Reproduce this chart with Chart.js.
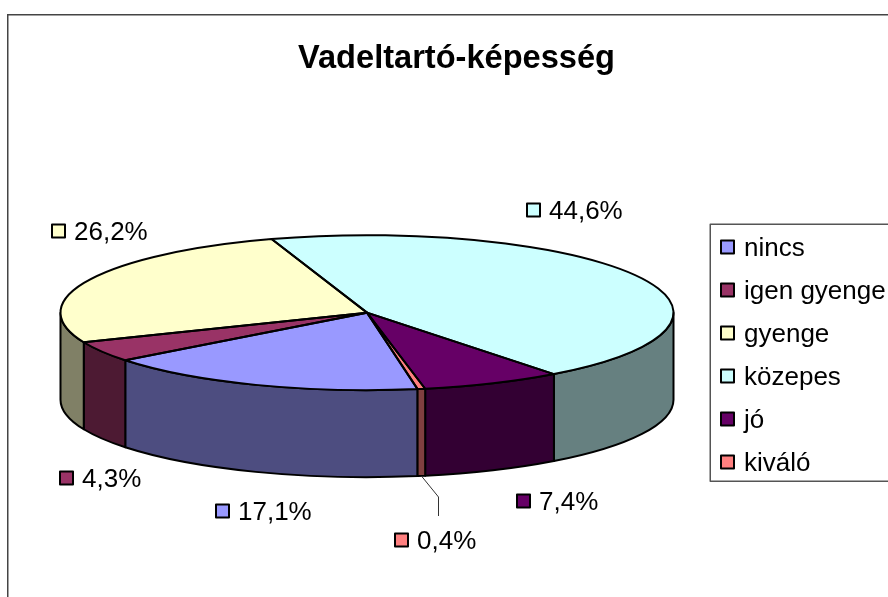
<!DOCTYPE html>
<html>
<head>
<meta charset="utf-8">
<style>
html,body{margin:0;padding:0;background:#fff;overflow:hidden}
canvas{display:block}
</style>
<script src="https://cdn.jsdelivr.net/npm/chart.js@4/dist/chart.umd.min.js"></script>
</head>
<body>
<canvas id="c" width="888" height="597"></canvas>
<script>
const titleText = 'Vadeltartó-képesség';
const categories = ['nincs', 'igen gyenge', 'gyenge', 'közepes', 'jó', 'kiváló'];
const shares = [17.1, 4.3, 26.2, 44.6, 7.4, 0.4];
const sliceColors = ['#9999FF', '#993366', '#FFFFCC', '#CCFFFF', '#660066', '#FF8080'];
const wallColors = ['#4D4D80', '#4D1A33', '#808066', '#668080', '#330033', '#804040'];

const FONT = '"Liberation Sans", Arial, sans-serif';
const TILT = 77.5 / 306.5, DEPTH = 87;
/* where each data label's marker sits: [marker left, marker centre y] */
const labelSpots = [[215, 511], [59, 478], [51, 231], [526, 210], [516, 501], [394, 540]];

function marker(ctx, x, cy, color) {
  ctx.fillStyle = color;
  ctx.strokeStyle = '#000';
  ctx.lineWidth = 2;
  ctx.fillRect(x + 1, cy - 6.5, 13, 13);
  ctx.strokeRect(x + 1, cy - 6.5, 13, 13);
}

const pie3d = {
  id: 'pie3d',
  afterLayout(chart) {
    const t = chart.titleBlock;
    t.left = 0; t.right = 913; t.top = 39;
  },
  beforeDraw(chart) {
    const ctx = chart.ctx;
    ctx.save();
    ctx.strokeStyle = '#444';
    ctx.lineWidth = 1.5;
    ctx.beginPath();
    ctx.moveTo(7.75, 597); ctx.lineTo(7.75, 14.75); ctx.lineTo(888, 14.75);
    ctx.stroke();
    ctx.restore();
  },
  beforeDatasetsDraw(chart) {
    const ctx = chart.ctx, arcs = chart.getDatasetMeta(0).data;
    ctx.save();
    const TAU = Math.PI * 2;
    arcs.forEach((a, i) => {
      for (let k = -1; k <= 2; k++) {
        const lo = Math.max(a.startAngle, k * TAU), hi = Math.min(a.endAngle, k * TAU + Math.PI);
        if (hi <= lo) continue;
        const rx = a.outerRadius, ry = rx * TILT;
        ctx.beginPath();
        ctx.ellipse(a.x, a.y, rx, ry, 0, lo, hi);
        ctx.ellipse(a.x, a.y + DEPTH, rx, ry, 0, hi, lo, true);
        ctx.closePath();
        ctx.fillStyle = wallColors[i];
        ctx.fill();
        ctx.strokeStyle = '#000';
        ctx.lineWidth = 2;
        ctx.lineJoin = 'round';
        ctx.stroke();
      }
    });
    ctx.restore();
    const c = arcs[0];
    ctx.save();
    ctx.translate(c.x, c.y);
    ctx.scale(1, TILT);
    ctx.translate(-c.x, -c.y);
  },
  afterDatasetsDraw(chart) {
    const ctx = chart.ctx, arcs = chart.getDatasetMeta(0).data;
    ctx.restore();
    ctx.save();
    ctx.strokeStyle = '#000';
    ctx.lineWidth = 2;
    ctx.lineJoin = 'round';
    arcs.forEach(a => {
      ctx.beginPath();
      ctx.moveTo(a.x, a.y);
      ctx.ellipse(a.x, a.y, a.outerRadius, a.outerRadius * TILT, 0, a.startAngle, a.endAngle);
      ctx.closePath();
      ctx.stroke();
    });

    /* leader line of the smallest slice */
    const small = arcs[5], mid = (small.startAngle + small.endAngle) / 2;
    const lx = small.x + small.outerRadius * Math.cos(mid);
    const ly = small.y + small.outerRadius * TILT * Math.sin(mid) + DEPTH;
    ctx.strokeStyle = '#333';
    ctx.lineWidth = 1;
    ctx.beginPath();
    ctx.moveTo(lx, ly);
    ctx.lineTo(438.5, 497);
    ctx.lineTo(438.5, 516);
    ctx.stroke();

    /* data labels */
    ctx.font = '26px ' + FONT;
    ctx.textBaseline = 'alphabetic';
    ctx.textAlign = 'left';
    shares.forEach((v, i) => {
      const [x, cy] = labelSpots[i];
      marker(ctx, x, cy, sliceColors[i]);
      ctx.fillStyle = '#000';
      ctx.fillText(v.toFixed(1).replace('.', ',') + '%', x + 23, cy + 9);
    });

    /* legend */
    ctx.strokeStyle = '#555';
    ctx.lineWidth = 1.5;
    ctx.beginPath();
    ctx.moveTo(888, 224.25); ctx.lineTo(710.25, 224.25); ctx.lineTo(710.25, 481.25); ctx.lineTo(888, 481.25);
    ctx.stroke();
    categories.forEach((name, i) => {
      const cy = 247 + i * 43;
      marker(ctx, 720, cy, sliceColors[i]);
      ctx.fillStyle = '#000';
      ctx.fillText(name, 744, cy + 9);
    });
    ctx.restore();
  }
};

new Chart(document.getElementById('c'), {
  type: 'pie',
  data: {
    labels: categories,
    datasets: [{
      data: shares,
      backgroundColor: sliceColors,
      borderWidth: 0,
      clip: false
    }]
  },
  options: {
    responsive: false,
    animation: false,
    events: [],
    rotation: 170.5,
    radius: 306.5,
    layout: { padding: { left: 60.5, right: 214.5, top: 0, bottom: 10.8 } },
    plugins: {
      legend: { display: false },
      tooltip: { enabled: false },
      title: {
        display: true,
        text: titleText,
        color: '#000',
        padding: 0,
        font: { family: FONT, size: 32.6, weight: 'bold', lineHeight: 1.2 }
      }
    }
  },
  plugins: [pie3d]
});
</script>
</body>
</html>
